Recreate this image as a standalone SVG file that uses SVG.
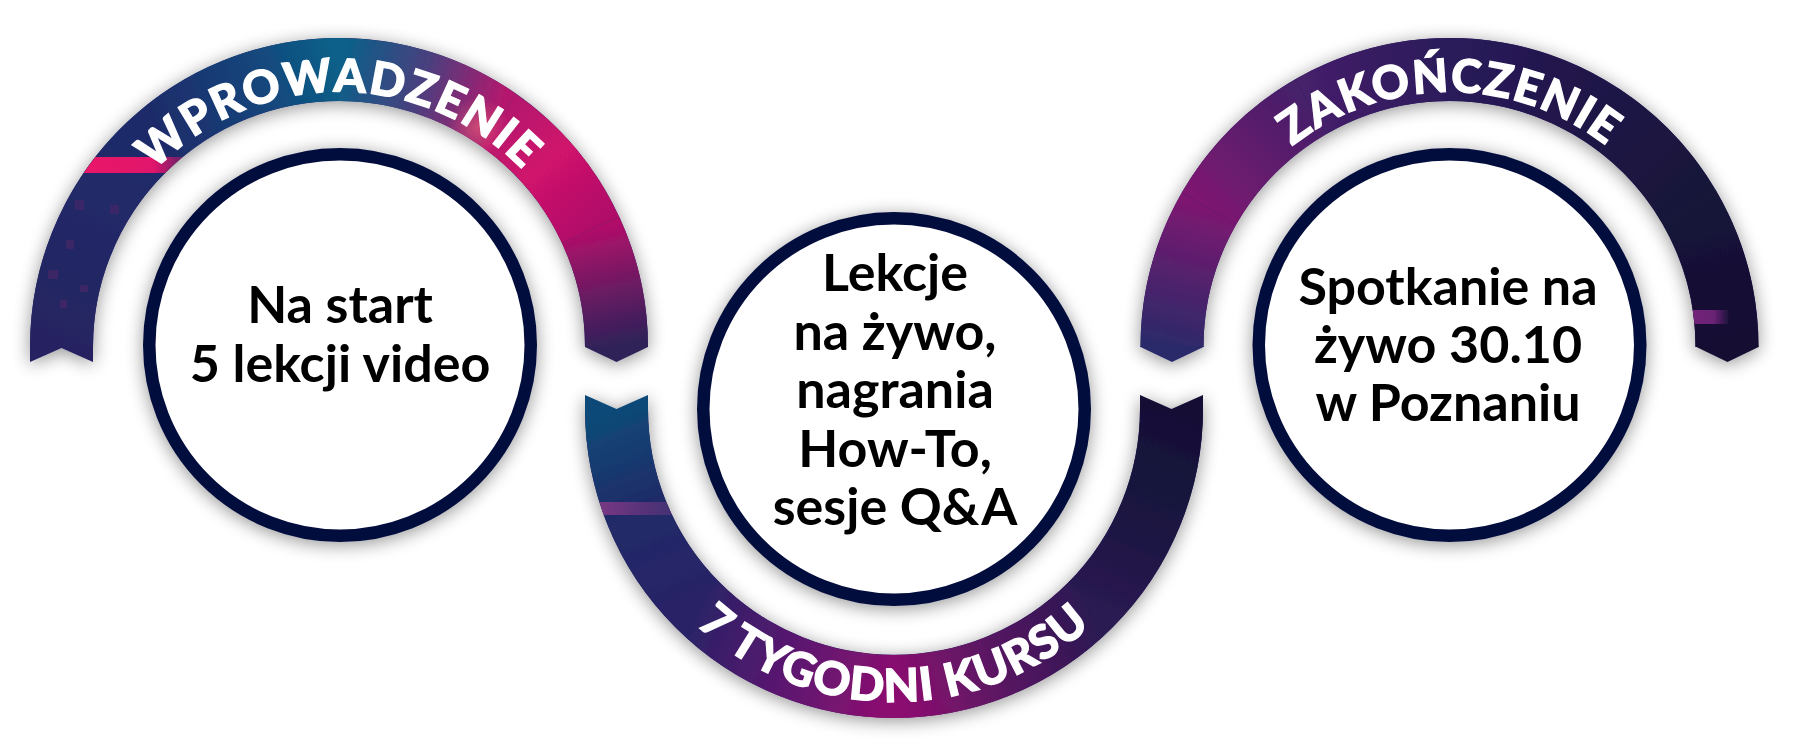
<svg xmlns="http://www.w3.org/2000/svg" width="1799" height="756" viewBox="0 0 1799 756">
<style>
.ct{font-family:Lato,"Liberation Sans",sans-serif;font-weight:700;font-size:52px;fill:#000;text-anchor:middle}
.lbl{font-family:Lato,"Liberation Sans",sans-serif;font-weight:900;font-size:46px;fill:#fff;stroke:#fff;stroke-width:1.2px}
.seg{fill:none;stroke-width:63}
.ring{fill:#fff;stroke:#040b3c;stroke-width:12.5}
</style>
<defs>
<filter id="sh" x="-15%" y="-15%" width="130%" height="130%">
<feGaussianBlur in="SourceAlpha" stdDeviation="9"/>
<feOffset dx="0" dy="3"/>
<feComponentTransfer><feFuncA type="linear" slope="0.42"/></feComponentTransfer>
<feMerge><feMergeNode/><feMergeNode in="SourceGraphic"/></feMerge>
</filter>
<clipPath id="c1"><path d="M 30 347 A 309 309 0 0 1 648 347 L 585 347 A 246 246 0 0 0 93 347 Z"/></clipPath>
<clipPath id="c2"><path d="M 585 409 A 309 309 0 0 0 1203 409 L 1140 409 A 246 246 0 0 1 648 409 Z"/></clipPath>
<clipPath id="c3"><path d="M 1140.5 347 A 309 309 0 0 1 1758.5 347 L 1695.5 347 A 246 246 0 0 0 1203.5 347 Z"/></clipPath>
<linearGradient id="l1" gradientUnits="userSpaceOnUse" x1="61.5" y1="347" x2="160.6" y2="134.4"><stop offset="0" stop-color="#262462"/><stop offset="1" stop-color="#1e2c6a"/></linearGradient>
<linearGradient id="l2" gradientUnits="userSpaceOnUse" x1="160.6" y1="134.4" x2="339" y2="69.5"><stop offset="0" stop-color="#1e2c6a"/><stop offset="0.55" stop-color="#15437a"/><stop offset="1" stop-color="#0b6089"/></linearGradient>
<linearGradient id="l3" gradientUnits="userSpaceOnUse" x1="339" y1="69.5" x2="498.2" y2="119.7"><stop offset="0" stop-color="#0b6089"/><stop offset="0.5" stop-color="#4a3f7e"/><stop offset="1" stop-color="#b5186d"/></linearGradient>
<linearGradient id="l4" gradientUnits="userSpaceOnUse" x1="498.2" y1="119.7" x2="590.5" y2="229.7"><stop offset="0" stop-color="#b5186d"/><stop offset="0.45" stop-color="#d0126c"/><stop offset="1" stop-color="#b00f69"/></linearGradient>
<linearGradient id="l5" gradientUnits="userSpaceOnUse" x1="590.5" y1="229.7" x2="616.5" y2="347"><stop offset="0" stop-color="#b00f69"/><stop offset="0.5" stop-color="#6e1a63"/><stop offset="1" stop-color="#2e2158"/></linearGradient>
<linearGradient id="ls" x1="0" y1="0" x2="1" y2="0"><stop offset="0" stop-color="#ec1468"/><stop offset="0.7" stop-color="#e0156c"/><stop offset="1" stop-color="#c0166c" stop-opacity="0.3"/></linearGradient>
<radialGradient id="blob"><stop offset="0" stop-color="#f06a7a" stop-opacity="0.55"/><stop offset="1" stop-color="#f06a7a" stop-opacity="0"/></radialGradient>
<linearGradient id="m1" gradientUnits="userSpaceOnUse" x1="616.5" y1="409" x2="697.8" y2="605.2"><stop offset="0" stop-color="#0e4a78"/><stop offset="0.45" stop-color="#1f2c68"/><stop offset="1" stop-color="#2a2266"/></linearGradient>
<linearGradient id="m2" gradientUnits="userSpaceOnUse" x1="697.8" y1="605.2" x2="894" y2="686.5"><stop offset="0" stop-color="#2a2266"/><stop offset="0.5" stop-color="#5a1770"/><stop offset="1" stop-color="#8c0f70"/></linearGradient>
<linearGradient id="m3" gradientUnits="userSpaceOnUse" x1="894" y1="686.5" x2="1090.2" y2="605.2"><stop offset="0" stop-color="#8c0f70"/><stop offset="0.5" stop-color="#561661"/><stop offset="1" stop-color="#2a1a52"/></linearGradient>
<linearGradient id="m4" gradientUnits="userSpaceOnUse" x1="1090.2" y1="605.2" x2="1171.5" y2="409"><stop offset="0" stop-color="#2a1a52"/><stop offset="0.5" stop-color="#1a1640"/><stop offset="1" stop-color="#130f36"/></linearGradient>
<linearGradient id="ms" x1="0" y1="0" x2="1" y2="0"><stop offset="0" stop-color="#9a3a8c"/><stop offset="1" stop-color="#8a3a8a" stop-opacity="0.4"/></linearGradient>
<linearGradient id="r1" gradientUnits="userSpaceOnUse" x1="1172" y1="347" x2="1209.2" y2="208.25"><stop offset="0" stop-color="#2c2a6a"/><stop offset="1" stop-color="#7c1870"/></linearGradient>
<linearGradient id="r2" gradientUnits="userSpaceOnUse" x1="1209.2" y1="208.25" x2="1310.75" y2="106.7"><stop offset="0" stop-color="#7c1870"/><stop offset="1" stop-color="#45206a"/></linearGradient>
<linearGradient id="r3" gradientUnits="userSpaceOnUse" x1="1310.75" y1="106.7" x2="1449.5" y2="69.5"><stop offset="0" stop-color="#45206a"/><stop offset="1" stop-color="#2a1a5a"/></linearGradient>
<linearGradient id="r4" gradientUnits="userSpaceOnUse" x1="1449.5" y1="69.5" x2="1588.25" y2="106.7"><stop offset="0" stop-color="#2a1a5a"/><stop offset="1" stop-color="#1f1848"/></linearGradient>
<linearGradient id="r5" gradientUnits="userSpaceOnUse" x1="1588.25" y1="106.7" x2="1689.8" y2="208.25"><stop offset="0" stop-color="#1f1848"/><stop offset="1" stop-color="#181339"/></linearGradient>
<linearGradient id="r6" gradientUnits="userSpaceOnUse" x1="1689.8" y1="208.25" x2="1727" y2="347"><stop offset="0" stop-color="#181339"/><stop offset="1" stop-color="#120e33"/></linearGradient>
<linearGradient id="rs" x1="0" y1="0" x2="1" y2="0"><stop offset="0" stop-color="#74247a"/><stop offset="0.6" stop-color="#6a2274"/><stop offset="1" stop-color="#6a2274" stop-opacity="0"/></linearGradient>
<path id="tp1" d="M 84 347 A 255 255 0 0 1 594 347"/>
<path id="tp2" d="M 601 409 A 293 293 0 0 0 1187 409"/>
<path id="tp3" d="M 1194.5 347 A 255 255 0 0 1 1704.5 347"/>
</defs>
<rect width="1799" height="756" fill="#fff"/>

<g id="connectors"></g>

<g id="arc-wprowadzenie" filter="url(#sh)">
<path class="seg" stroke="#2a2262" d="M 61.5 347 A 277.5 277.5 0 0 1 616.5 347"/>
<path class="seg" stroke="url(#l1)" d="M 61.5 347 A 277.5 277.5 0 0 1 160.6 134.4"/>
<path class="seg" stroke="url(#l2)" d="M 160.6 134.4 A 277.5 277.5 0 0 1 339 69.5"/>
<path class="seg" stroke="url(#l3)" d="M 339 69.5 A 277.5 277.5 0 0 1 498.2 119.7"/>
<path class="seg" stroke="url(#l4)" d="M 498.2 119.7 A 277.5 277.5 0 0 1 590.5 229.7"/>
<path class="seg" stroke="url(#l5)" d="M 590.5 229.7 A 277.5 277.5 0 0 1 616.5 347"/>
<polygon fill="#262462" points="30,346 93,346 93,362 61.5,348 30,362"/>
<polygon fill="#2e2158" points="585,346 648,346 648,347 616.5,362 585,347"/>
<g clip-path="url(#c1)">
<rect x="70" y="157" width="120" height="16" fill="url(#ls)"/>
<circle cx="478" cy="127" r="30" fill="url(#blob)"/>
<g fill="#6a2a6a" opacity="0.35">
<rect x="75" y="200" width="9" height="10"/><rect x="66" y="240" width="8" height="9"/><rect x="48" y="270" width="10" height="9"/>
<rect x="60" y="300" width="7" height="8"/><rect x="80" y="285" width="8" height="7"/><rect x="110" y="205" width="9" height="9"/>
</g>
</g>
<text class="lbl" letter-spacing="2.2"><textPath href="#tp1" startOffset="50%" text-anchor="middle">WPROWADZENIE</textPath></text>
</g>

<g id="arc-7-tygodni" filter="url(#sh)">
<path class="seg" stroke="#2a1a5a" d="M 616.5 409 A 277.5 277.5 0 0 0 1171.5 409"/>
<path class="seg" stroke="url(#m1)" d="M 616.5 409 A 277.5 277.5 0 0 0 697.8 605.2"/>
<path class="seg" stroke="url(#m2)" d="M 697.8 605.2 A 277.5 277.5 0 0 0 894 686.5"/>
<path class="seg" stroke="url(#m3)" d="M 894 686.5 A 277.5 277.5 0 0 0 1090.2 605.2"/>
<path class="seg" stroke="url(#m4)" d="M 1090.2 605.2 A 277.5 277.5 0 0 0 1171.5 409"/>
<polygon fill="#0e4a78" points="585,410 585,395 616.5,409 648,395 648,410"/>
<polygon fill="#130f36" points="1140,410 1140,395 1171.5,409 1203,395 1203,410"/>
<g clip-path="url(#c2)">
<rect x="590" y="502" width="85" height="13" fill="url(#ms)" opacity="0.8"/>
</g>
<text class="lbl" letter-spacing="1.3"><textPath href="#tp2" startOffset="50%" text-anchor="middle">7 TYGODNI KURSU</textPath></text>
</g>

<g id="arc-zakonczenie" filter="url(#sh)">
<path class="seg" stroke="#2a1a5a" d="M 1172 347 A 277.5 277.5 0 0 1 1727 347"/>
<path class="seg" stroke="url(#r1)" d="M 1172 347 A 277.5 277.5 0 0 1 1209.2 208.25"/>
<path class="seg" stroke="url(#r2)" d="M 1209.2 208.25 A 277.5 277.5 0 0 1 1310.75 106.7"/>
<path class="seg" stroke="url(#r3)" d="M 1310.75 106.7 A 277.5 277.5 0 0 1 1449.5 69.5"/>
<path class="seg" stroke="url(#r4)" d="M 1449.5 69.5 A 277.5 277.5 0 0 1 1588.25 106.7"/>
<path class="seg" stroke="url(#r5)" d="M 1588.25 106.7 A 277.5 277.5 0 0 1 1689.8 208.25"/>
<path class="seg" stroke="url(#r6)" d="M 1689.8 208.25 A 277.5 277.5 0 0 1 1727 347"/>
<polygon fill="#2c2a6a" points="1140.5,346 1203.5,346 1203.5,347 1172,362 1140.5,347"/>
<polygon fill="#120e33" points="1696.5,346 1758.5,346 1758.5,347 1727.5,362 1696.5,347"/>
<g clip-path="url(#c3)">
<rect x="1690" y="310" width="40" height="14" fill="url(#rs)"/>
</g>
<text class="lbl" letter-spacing="1.4"><textPath href="#tp3" startOffset="50%" text-anchor="middle">ZAKOŃCZENIE</textPath></text>
</g>

<g id="node-wprowadzenie" filter="url(#sh)">
<circle class="ring" cx="340" cy="345" r="190.75"/>
<text class="ct" x="340" y="323">Na start</text>
<text class="ct" x="340" y="382">5 lekcji video</text>
</g>

<g id="node-7-tygodni" filter="url(#sh)">
<circle class="ring" cx="894" cy="409" r="190.75"/>
<text class="ct" x="895" y="291">Lekcje</text>
<text class="ct" x="895" y="349.5">na żywo,</text>
<text class="ct" x="895" y="408">nagrania</text>
<text class="ct" x="895" y="466.5">How-To,</text>
<text class="ct" x="895" y="525">sesje Q&amp;A</text>
</g>

<g id="node-zakonczenie" filter="url(#sh)">
<circle class="ring" cx="1449.5" cy="345" r="190.75"/>
<text class="ct" x="1448" y="305">Spotkanie na</text>
<text class="ct" x="1448" y="363">żywo 30.10</text>
<text class="ct" x="1448" y="421">w Poznaniu</text>
</g>
</svg>
